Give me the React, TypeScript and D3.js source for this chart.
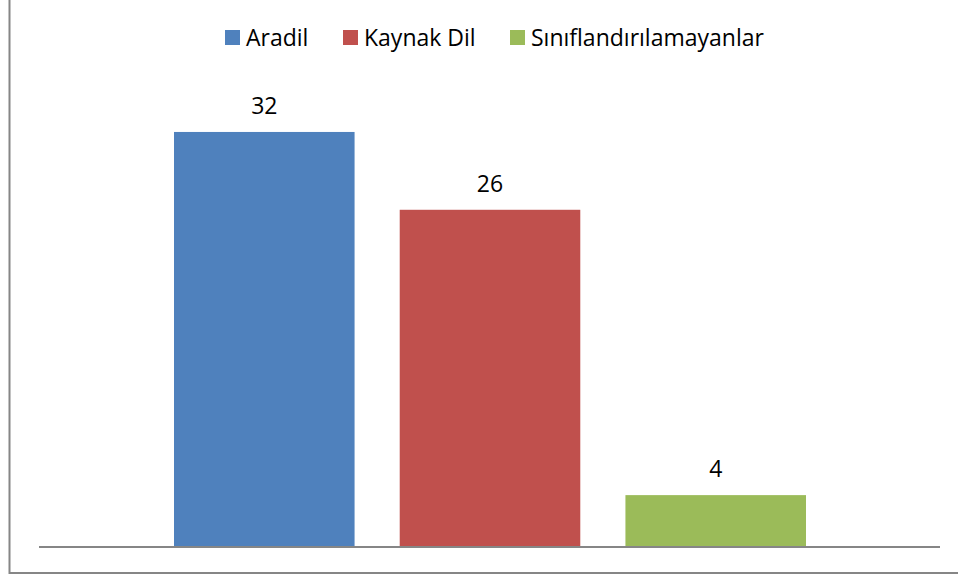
import React from "react";
import * as d3 from "d3";

const seriesNames = ["Aradil", "Kaynak Dil", "Sınıflandırılamayanlar"];
const seriesValues = [32, 26, 4];
const seriesColors = ["#4f81bd", "#c0504d", "#9bbb59"];

const W = 958;
const H = 577;
const FONT = "'Open Sans', 'Noto Sans', sans-serif";

export default function App() {
  // plot area
  const plotLeft = 39;
  const plotRight = 940;
  const baseY = 547;

  const y = d3.scaleLinear().domain([0, 35]).range([baseY, baseY - 35 * 12.97]);
  const x = d3
    .scaleBand<string>()
    .domain(seriesNames)
    .range([174, 806])
    .paddingInner(0.2)
    .paddingOuter(0);

  // legend layout (x positions of the swatches)
  const legendX = [225, 343, 510];

  return (
    <svg
      width={W}
      height={H}
      style={{ position: "absolute", left: 0, top: 0, background: "#fff" }}
      fontFamily={FONT}
    >
      <rect x={9.5} y={-10} width={W + 20} height={583} fill="#fff" stroke="#868686" strokeWidth={2} />

      {seriesNames.map((name, i) => (
        <g key={name}>
          <rect
            x={x(name)}
            y={y(seriesValues[i])}
            width={x.bandwidth()}
            height={baseY - y(seriesValues[i])}
            fill={seriesColors[i]}
          />
          <text
            x={(x(name) as number) + x.bandwidth() / 2}
            y={y(seriesValues[i]) - 18}
            textAnchor="middle"
            fontSize={23}
            fill="#000"
          >
            {seriesValues[i]}
          </text>
        </g>
      ))}

      <line x1={plotLeft} x2={plotRight} y1={baseY} y2={baseY} stroke="#868686" strokeWidth={2} />

      {seriesNames.map((name, i) => (
        <g key={"lg" + name} transform={`translate(${legendX[i]},30)`}>
          <rect width={15} height={15} fill={seriesColors[i]} />
          <text x={21} y={16} fontSize={23} fill="#000">
            {name}
          </text>
        </g>
      ))}
    </svg>
  );
}
